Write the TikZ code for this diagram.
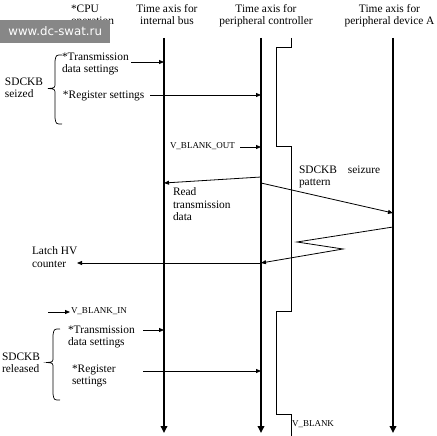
\documentclass[tikz,border=0pt]{standalone}
\usepackage{fontspec}
\setmainfont{Liberation Serif}
\newfontfamily\wmfont{DejaVu Sans}
\usetikzlibrary{arrows.meta}
\definecolor{wmgray}{RGB}{135,135,135}
\begin{document}
\begin{tikzpicture}[x=1pt,y=-1pt,
  txt/.style={inner sep=0pt, outer sep=0pt, anchor=north west, align=left, font=\fontsize{11.4}{12.2}\selectfont},
  hdr/.style={inner sep=0pt, outer sep=0pt, anchor=north, align=center, font=\fontsize{11.4}{12.2}\selectfont},
  sig/.style={inner sep=0pt, outer sep=0pt, anchor=north west, font=\fontsize{9}{11}\selectfont},
  axis/.style={line width=2.2pt, -{Triangle[length=7pt,width=6.5pt]}},
  msg/.style={line width=0.8pt, -{Triangle[length=5pt,width=4pt]}},
  wave/.style={line width=0.8pt},
  brace/.style={line width=0.7pt}]
\useasboundingbox (0,0) rectangle (437,436);

% headers
\node[txt] (cpu) at (71,4.5) {*CPU\\operation};
\node[hdr] (hbus) at (167,4.5) {Time axis for\\internal bus};
\node[hdr] (hctl) at (266,4.5) {Time axis for\\peripheral controller};
\node[hdr] (hdev) at (389.5,4.5) {Time axis for\\peripheral device A};

% watermark
\node[fill=wmgray, minimum width=110pt, minimum height=23.5pt, inner sep=0pt, anchor=north west,
      text=white, font=\wmfont\fontsize{11.8}{12}\selectfont] (wm) at (0,19.5) {www.dc-swat.ru};

% axes
\coordinate (busT) at (164,38);  \coordinate (busB) at (164,433);
\coordinate (ctlT) at (261,38);  \coordinate (ctlB) at (261,433);
\coordinate (devT) at (393,38);  \coordinate (devB) at (393,433);
\draw[axis] (busT) -- (busB);
\draw[axis] (ctlT) -- (ctlB);
\draw[axis] (devT) -- (devB);

% V_BLANK waveform
\coordinate (w0) at (291,38);
\coordinate (w9) at (291,436);
\draw[wave] (w0) -- (291,47) -- (276,47) -- (276,146) -- (291,146) -- (291,311)
  -- (276,311) -- (276,414) -- (291,414) -- (w9);

% SDCKB seized group
\node[txt] (seized) at (5,78) {SDCKB\\seized};
\draw[brace] (62,55) .. controls (56,55) .. (55,61) -- (55,83)
  .. controls (55,88) .. (48,88.5) .. controls (55,89) .. (55,94) -- (55,118)
  .. controls (56,124) .. (62,124);
\node[txt] (tr1) at (62,53) {*Transmission\\data settings};
\coordinate (tr1s) at (131,62);
\draw[msg] (tr1s) -- (tr1s -| busT);
\node[txt] (rg1) at (63,91) {*Register settings};
\coordinate (rg1s) at (150,95);
\draw[msg] (rg1s) -- (rg1s -| ctlT);

% V_BLANK_OUT
\node[sig] (vbo) at (170,143) {V\_BLANK\_OUT};
\coordinate (vbos) at (240,147);
\draw[msg] (vbos) -- (vbos -| ctlT);

% read transmission data
\coordinate (rd1) at (261,177);
\coordinate (rd2) at (164,183);
\draw[msg] (rd1) -- (rd2);
\node[txt] (rdt) at (173,188) {Read\\transmission\\data};

% seizure pattern
\coordinate (sp1) at (261,183);
\coordinate (sp2) at (393,213);
\draw[msg] (sp1) -- (sp2);
\node[txt] (spt) at (299,166) {SDCKB\hspace{11pt}seizure\\pattern};

% zigzag back
\coordinate (zz0) at (393,227);
\coordinate (zz1) at (297,242);
\coordinate (zz2) at (343,249);
\coordinate (zz3) at (261,263);
\draw[msg] (zz0) -- (zz1) -- (zz2) -- (zz3);

% latch HV counter
\coordinate (lt1) at (261,263);
\coordinate (lt2) at (77,263);
\draw[msg] (lt1) -- (lt2);
\node[txt] (lat) at (32,247) {Latch HV\\counter};

% V_BLANK_IN
\coordinate (vbi1) at (48,312);
\coordinate (vbi2) at (70,312);
\draw[msg] (vbi1) -- (vbi2);
\node[sig] (vbi) at (71,308) {V\_BLANK\_IN};

% SDCKB released group
\node[txt] (rel) at (2,353) {SDCKB\\released};
\draw[brace] (60,329) .. controls (54,329) .. (53,335) -- (53,357)
  .. controls (53,362) .. (47,362.5) .. controls (53,363) .. (53,368) -- (53,394)
  .. controls (54,400) .. (60,400);
\node[txt] (tr2) at (68,326) {*Transmission\\data settings};
\coordinate (tr2s) at (143,330);
\draw[msg] (tr2s) -- (tr2s -| busT);
\node[txt] (rg2) at (72,365) {*Register\\settings};
\coordinate (rg2s) at (143,371);
\draw[msg] (rg2s) -- (rg2s -| ctlT);

% V_BLANK
\node[sig] (vb) at (292,421) {V\_BLANK};
\end{tikzpicture}
\end{document}
